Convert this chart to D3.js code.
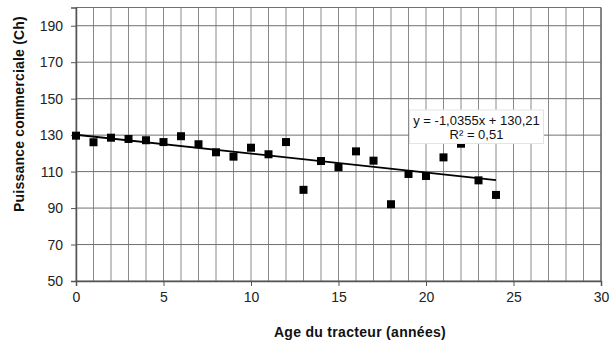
<!DOCTYPE html>
<html><head><meta charset="utf-8">
<script src="https://cdn.jsdelivr.net/npm/d3@7"></script>
<style>
html,body{margin:0;padding:0;background:#fff;}
svg{display:block;font-family:"Liberation Sans",Arial,sans-serif;}
</style></head>
<body>
<svg id="chart" width="611" height="343"></svg>
<script>
const ages = [0,1,2,3,4,5,6,7,8,9,10,11,12,13,14,15,16,17,18,19,20,21,22,23,24];
const puissance = [129.7,126.1,128.6,127.9,127.2,126.2,129.4,125.0,120.6,118.2,123.1,119.5,126.2,100.0,115.8,112.4,121.1,116.0,92.1,108.7,107.6,117.8,125.3,105.2,97.2];
const slope = -1.0355, intercept = 130.21;
const xTicks = [0,5,10,15,20,25,30];
const yTicks = [50,70,90,110,130,150,170,190];
const xGrid = d3.range(0,31,1);
const eqLines = ["y = -1,0355x + 130,21","R² = 0,51"];
const xTitle = "Age du tracteur (années)";
const yTitle = "Puissance commerciale (Ch)";

const svg = d3.select("#chart");
const L=76, R=601, T=7.5, B=281;
const x = d3.scaleLinear().domain([0,30]).range([L,R]);
const y = d3.scaleLinear().domain([50,200]).range([B,T]);

// grid
const g = svg.append("g");
g.selectAll(".vg").data(xGrid).join("line")
  .attr("x1",d=>x(d)).attr("x2",d=>x(d)).attr("y1",T).attr("y2",B)
  .attr("stroke","#8a8a8a").attr("stroke-width",1);
g.selectAll(".hg").data(yTicks.concat([200])).join("line")
  .attr("x1",L).attr("x2",R).attr("y1",d=>y(d)).attr("y2",d=>y(d))
  .attr("stroke","#707070").attr("stroke-width",1);
g.append("line").attr("x1",R).attr("x2",R).attr("y1",T).attr("y2",B).attr("stroke","#707070").attr("stroke-width",1.5);

// axes
const xAxis = svg.append("g").attr("transform",`translate(0,${B})`)
  .call(d3.axisBottom(x).tickValues(xTicks).tickSize(5).tickPadding(6).tickFormat(d3.format("d")));
const yAxis = svg.append("g").attr("transform",`translate(${L},0)`)
  .call(d3.axisLeft(y).tickValues(yTicks).tickSize(5).tickPadding(8).tickFormat(d3.format("d")));
[xAxis,yAxis].forEach(a=>{
  a.select(".domain").attr("stroke","#555").attr("stroke-width",1.5);
  a.selectAll(".tick line").attr("stroke","#555");
  a.selectAll(".tick text").attr("font-size","14px").attr("fill","#222")
    .attr("font-family","'Liberation Sans',Arial,sans-serif");
});

// trend line
svg.append("line")
  .attr("x1",x(0)).attr("y1",y(intercept))
  .attr("x2",x(24)).attr("y2",y(intercept+slope*24))
  .attr("stroke","#000").attr("stroke-width",1.8);

// points
svg.selectAll(".pt").data(ages).join("rect")
  .attr("x",(d)=>x(d)-4).attr("y",(d,i)=>y(puissance[i])-4)
  .attr("width",8).attr("height",8).attr("fill","#000");

// equation label
const bx = 409.5, by = 110, bw = 134, bh = 33.5;
svg.append("rect").attr("x",bx).attr("y",by).attr("width",bw).attr("height",bh)
  .attr("fill","#fff").attr("stroke","#e4e4e4");
svg.selectAll(".eq").data(eqLines).join("text")
  .attr("x",bx+bw/2).attr("y",(d,i)=>124.5+i*14.5)
  .attr("text-anchor","middle").attr("font-size","13px").attr("fill","#111")
  .text(d=>d);

// titles
svg.append("text").attr("x",360).attr("y",337).attr("text-anchor","middle")
  .attr("font-weight","bold").attr("font-size","14px").attr("letter-spacing","0.3px").attr("fill","#111").text(xTitle);
svg.append("text").attr("transform","translate(24,114) rotate(-90)").attr("text-anchor","middle")
  .attr("font-weight","bold").attr("font-size","14px").attr("letter-spacing","0.2px").attr("fill","#111").text(yTitle);
</script>
</body></html>
